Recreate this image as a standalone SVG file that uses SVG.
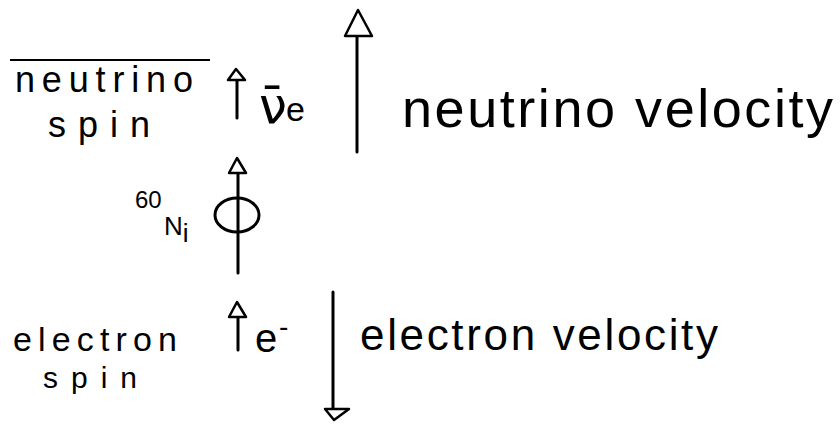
<svg xmlns="http://www.w3.org/2000/svg" width="840" height="435" viewBox="0 0 840 435">
<style>
  text { font-family: "Liberation Sans", "DejaVu Sans", sans-serif; fill: #000; }
  .ln { stroke: #000; stroke-width: 3; stroke-linecap: round; fill: none; }
  .hd { stroke: #000; stroke-width: 2.5; stroke-linejoin: round; fill: #fff; }
  .thin { stroke: #000; stroke-width: 2; fill: none; }
</style>
<rect width="840" height="435" fill="#fff"/>

<g id="neutrino-spin-label">
  <line class="thin" x1="10" y1="60" x2="210" y2="60"/>
  <text x="15" y="92" font-size="36" textLength="178" lengthAdjust="spacing">neutrino</text>
  <text x="48" y="137" font-size="36" textLength="102" lengthAdjust="spacing">spin</text>
</g>

<g id="antineutrino-symbol">
  <text x="259" y="123" font-size="50" style="font-family:'DejaVu Sans', sans-serif">ν̄</text>
  <text x="286" y="121" font-size="34">e</text>
</g>

<g id="neutrino-velocity-label">
  <text x="402" y="127" font-size="54" textLength="431" lengthAdjust="spacing">neutrino velocity</text>
</g>

<g id="nickel-60">
  <text x="135" y="208" font-size="24">60</text>
  <text x="164" y="235" font-size="26">N<tspan dy="7">i</tspan></text>
  <ellipse class="ln" cx="237" cy="215" rx="22" ry="17"/>
</g>

<g id="electron-spin-label">
  <text x="13" y="351" font-size="34" textLength="164" lengthAdjust="spacing">electron</text>
  <text x="43" y="388" font-size="30" textLength="94" lengthAdjust="spacing">spin</text>
</g>

<g id="electron-symbol">
  <text x="255" y="352" font-size="40">e<tspan x="279" y="336" font-size="28">-</tspan></text>
</g>

<g id="electron-velocity-label">
  <text x="360" y="350" font-size="44" textLength="358" lengthAdjust="spacing">electron velocity</text>
</g>

<g id="connectors">
  <!-- neutrino spin arrow -->
  <line class="ln" x1="237" y1="80" x2="237" y2="118"/>
  <polygon class="hd" points="236,69 228,80 245,80"/>
  <!-- neutrino velocity arrow -->
  <line class="ln" x1="357" y1="36" x2="357" y2="152"/>
  <polygon class="hd" points="358,10 345,36 372,36"/>
  <!-- Ni spin axis arrow -->
  <line class="ln" x1="238" y1="173" x2="238" y2="273"/>
  <polygon class="hd" points="237,158 229,173 246,173"/>
  <!-- electron spin arrow -->
  <line class="ln" x1="238" y1="317" x2="238" y2="350"/>
  <polygon class="hd" points="237,302 229,317 246,317"/>
  <!-- electron velocity arrow (downward) -->
  <line class="ln" x1="333" y1="292" x2="333" y2="408"/>
  <polygon class="hd" points="325,409 349,409 334,420"/>
</g>
</svg>
